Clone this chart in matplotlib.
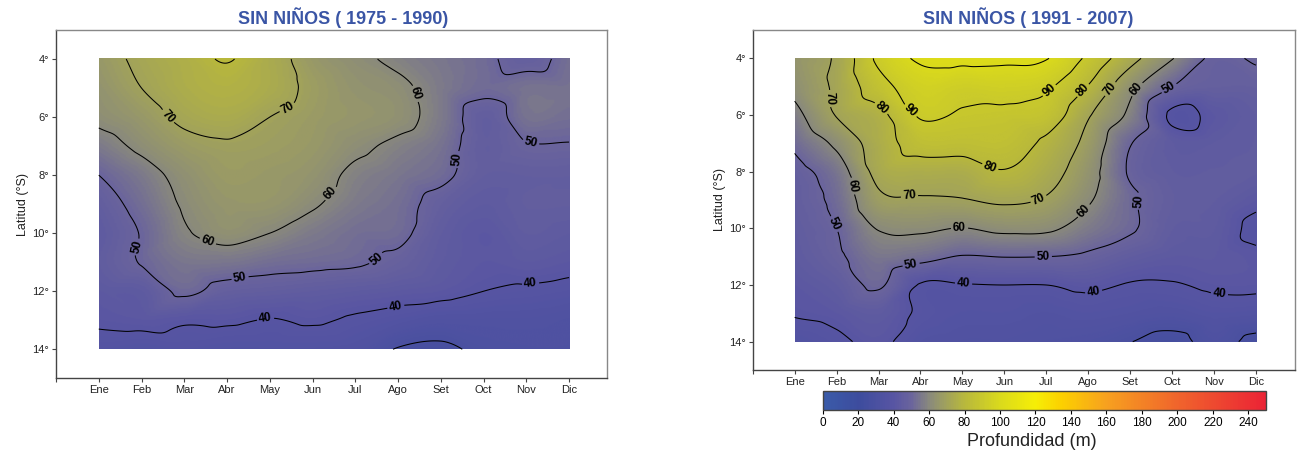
import numpy as np
import matplotlib.pyplot as plt
import matplotlib.tri as mtri
from matplotlib.colors import LinearSegmentedColormap, Normalize

plt.rcParams['font.family'] = ['Liberation Sans', 'DejaVu Sans']

months = ['Ene', 'Feb', 'Mar', 'Abr', 'May', 'Jun', 'Jul', 'Ago', 'Set', 'Oct', 'Nov', 'Dic']
latitudes = [4, 5, 6, 7, 8, 9, 10, 11, 12, 13, 14]
lat_ticks = [4, 6, 8, 10, 12, 14]

# depth (m), rows = latitude 4..14 °S, cols = Ene..Dic
depth_1975_1990 = [
    [66, 72, 76, 80.5, 74, 66, 62, 58, 55, 52, 47, 53],
    [64, 70, 75, 77, 74, 68, 64, 62, 56, 52, 54, 54],
    [62, 66, 72, 74, 70, 67, 65, 63, 56, 46, 54, 53],
    [56, 62, 67, 69, 68, 66, 62, 58, 54, 46, 49.5, 49.5],
    [50, 56, 63, 67, 66, 64, 58, 55, 52, 46, 46, 46],
    [46, 53, 61, 65, 65, 61, 56, 53, 47, 44, 46, 46],
    [44, 50.5, 59, 63, 60, 56, 53, 52, 45, 42, 45, 44],
    [45, 50.5, 55, 55, 53, 52, 51, 48, 44, 42, 43, 42],
    [43, 44, 51.5, 47, 46, 45, 44, 43, 42, 40, 39, 38],
    [41, 42, 41, 41, 39.7, 40.8, 39, 37, 35, 35, 35, 34],
    [37, 36, 37, 36, 36, 36, 35, 29.5, 28, 32, 33, 33],
]

depth_1991_2007 = [
    [64.5, 71.5, 92, 101.5, 102.5, 102, 100.5, 88, 73.5, 60.5, 48.5, 51],
    [62.5, 72, 86, 95, 93, 94, 91.5, 79.5, 63, 50, 47, 47],
    [57, 70.5, 77, 91, 89, 88, 86, 71, 58, 38.5, 42, 45],
    [52, 62, 75, 84, 84, 84.5, 78, 67, 50.5, 44, 44, 45],
    [47, 55, 73, 75, 75, 79.5, 74, 64, 49, 45, 45, 45],
    [46, 52.5, 68, 69, 69.5, 71.5, 69, 61, 51.5, 46, 45, 42],
    [45, 50, 60.5, 61.5, 59.8, 62, 61.5, 56, 51, 45, 44, 38],
    [44, 48.5, 55, 53, 49.5, 50.2, 50, 48.5, 45, 43, 43, 41.5],
    [42, 45, 51, 39.5, 39.7, 40, 40, 41.5, 39.5, 39.5, 41, 41],
    [40.5, 42, 44, 39, 37, 37, 36, 37, 36, 35, 37, 36.5],
    [36, 38.5, 41.5, 36, 35, 35, 34, 33, 30.2, 27, 33, 27.5],
]

titles = ['SIN NIÑOS ( 1975 - 1990)', 'SIN NIÑOS ( 1991 - 2007)']
contour_levels = [30, 40, 50, 60, 70, 80, 90, 100]
cbar_ticks = list(range(0, 241, 20))
vmax = 250

# where the contour labels sit (month, latitude)
labels_1975_1990 = {
    70: [(2.6, 6.0), (5.45, 5.8)],
    60: [(8.2, 5.3), (6.4, 8.6), (3.5, 10.5)],
    50: [(1.95, 10.5), (4.3, 11.5), (7.5, 10.9), (9.6, 7.5), (11.1, 6.9)],
    40: [(4.9, 12.95), (7.95, 12.55), (11.1, 11.75)],
}
labels_1991_2007 = {
    90: [(3.73, 5.9), (7.07, 5.13)],
    80: [(3.06, 5.77), (5.68, 7.76), (7.91, 5.18)],
    70: [(1.87, 5.42), (3.73, 8.76), (6.84, 9.05), (8.61, 5.18)],
    60: [(2.28, 8.53), (4.93, 9.93), (7.91, 9.4), (9.21, 5.18)],
    50: [(2.0, 9.81), (3.77, 11.22), (6.93, 11.05), (9.26, 9.05), (9.96, 5.13)],
    40: [(5.03, 11.83), (8.14, 12.34), (11.12, 12.43)],
}

cmap = LinearSegmentedColormap.from_list('prof', [
    (0 / vmax, '#3a5ba9'), (20 / vmax, '#3d4c9e'), (40 / vmax, '#5855a3'),
    (50 / vmax, '#6b659c'), (60 / vmax, '#8a8a7c'), (70 / vmax, '#a2a35a'),
    (80 / vmax, '#b8b83c'), (100 / vmax, '#dada1c'), (120 / vmax, '#f6ee06'),
    (135 / vmax, '#fcd000'), (160 / vmax, '#f7a11f'), (200 / vmax, '#f0652c'),
    (250 / vmax, '#eb2335')])
norm = Normalize(0, vmax)


def smooth_field(z, n=300):
    z = np.asarray(z, float)
    mm, ll = np.meshgrid(np.arange(1, 13), latitudes)
    tri = mtri.Triangulation(mm.ravel().astype(float), ll.ravel().astype(float))
    interp = mtri.CubicTriInterpolator(tri, z.ravel(), kind='geom')
    xf = np.linspace(1, 12, n)
    yf = np.linspace(4, 14, n)
    XF, YF = np.meshgrid(xf, yf)
    ZF = interp(XF, YF)
    return XF, YF, np.ma.filled(ZF, np.nan)


W, H = 1301, 453
fig = plt.figure(figsize=(W / 100, H / 100), dpi=100)


def px_axes(x0, x1, y0, y1):
    return fig.add_axes([x0 / W, 1 - y1 / H, (x1 - x0) / W, (y1 - y0) / H])


axes = [px_axes(56, 606.7, 30, 378.3), px_axes(752.7, 1295, 30, 370)]
xmax = [12.88, 12.93]
title_x = [343, 1028]
panels = [(depth_1975_1990, labels_1975_1990), (depth_1991_2007, labels_1991_2007)]

for i, (ax, (data, lab_pos)) in enumerate(zip(axes, panels)):
    ax.set_xlim(0, xmax[i])
    ax.set_ylim(15, 3)
    XF, YF, ZF = smooth_field(data)
    ax.imshow(ZF, extent=[1, 12, 14, 4], origin='upper', cmap=cmap, norm=norm,
              aspect='auto', interpolation='bilinear')
    for lev in contour_levels:
        cs = ax.contour(XF, YF, ZF, levels=[lev], colors='k', linewidths=0.75)
        if lev in lab_pos:
            texts = ax.clabel(cs, fmt='%d', fontsize=8.5, inline=True,
                              inline_spacing=2, manual=lab_pos[lev])
            for t in texts:
                t.set_fontweight('bold')
    ax.set_xlim(0, xmax[i])
    ax.set_ylim(15, 3)
    ax.set_xticks(range(0, 13))
    ax.set_xticklabels([''] + months, fontsize=8, color='#222222')
    ax.set_yticks(lat_ticks)
    ax.set_yticklabels([f'{v}°' for v in lat_ticks], fontsize=8, color='#222222')
    ax.tick_params(direction='out', length=3, width=0.8, color='#444444', pad=2)
    ax.set_ylabel('Latitud (°S)', fontsize=9, color='#222222', labelpad=2)
    for side in ['left', 'bottom']:
        ax.spines[side].set_color('#444444')
        ax.spines[side].set_linewidth(1)
    for side in ['top', 'right']:
        ax.spines[side].set_color('#888888')
        ax.spines[side].set_linewidth(1)
    fig.text(title_x[i] / W, 1 - 18 / H, titles[i], ha='center', va='center',
             fontsize=13, fontweight='bold', color='#3a55a5')

cax = px_axes(822.7, 1266, 391.3, 409.7)
sm = plt.cm.ScalarMappable(norm=norm, cmap=cmap)
cb = fig.colorbar(sm, cax=cax, orientation='horizontal', ticks=cbar_ticks)
cb.outline.set_linewidth(1)
cb.outline.set_edgecolor('#444444')
cax.tick_params(direction='out', length=3, width=0.8, labelsize=8.5, pad=2)
fig.text(1032 / W, 1 - 441 / H, 'Profundidad (m)', ha='center', va='center',
         fontsize=13, color='#222222')

fig.savefig('out.png', dpi=100)
